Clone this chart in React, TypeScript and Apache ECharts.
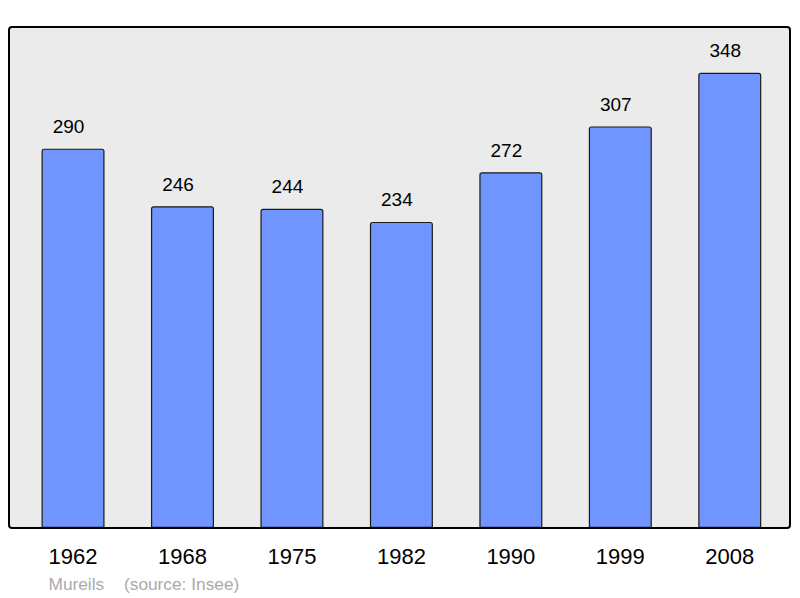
import React, { useEffect, useRef } from "react";
import * as echarts from "echarts";

const categories = ["1962", "1968", "1975", "1982", "1990", "1999", "2008"];
const population = [290, 246, 244, 234, 272, 307, 348];
const placeName = "Mureils";
const sourceText = "(source: Insee)";

export default function App() {
  const ref = useRef<HTMLDivElement>(null);
  useEffect(() => {
    if (!ref.current) return;
    const chart = echarts.init(ref.current, null, { renderer: "svg" });
    chart.setOption({
      animation: false,
      backgroundColor: "#ffffff",
      grid: { left: 18.3, width: 766.2, top: 27, bottom: 70, containLabel: false },
      xAxis: {
        type: "category",
        data: categories,
        axisLine: { show: false },
        axisTick: { show: false },
        axisLabel: {
          color: "#000",
          fontSize: 22,
          fontFamily: "Liberation Sans, Arial, sans-serif",
          margin: 17,
        },
      },
      yAxis: {
        type: "value",
        min: 0,
        max: 383,
        show: false,
        splitLine: { show: false },
      },
      graphic: [
        {
          type: "rect",
          z: -10,
          silent: true,
          shape: { x: 9, y: 27, width: 781, height: 501, r: 3 },
          style: { fill: "#ebebeb", stroke: "none" },
        },
        {
          type: "rect",
          z: 100,
          silent: true,
          shape: { x: 9, y: 27, width: 781, height: 501, r: 3 },
          style: { fill: "none", stroke: "#000", lineWidth: 2 },
        },
        {
          type: "text",
          left: 48.5,
          top: 575,
          style: {
            text: placeName,
            fill: "#aaaaaa",
            font: "17.3px Liberation Sans, Arial, sans-serif",
          },
        },
        {
          type: "text",
          left: 124,
          top: 575,
          style: {
            text: sourceText,
            fill: "#aaaaaa",
            font: "17.3px Liberation Sans, Arial, sans-serif",
          },
        },
      ],
      series: [
        {
          type: "bar",
          data: population,
          barWidth: 63,
          itemStyle: {
            color: "#7095ff",
            borderColor: "#1a1a1a",
            borderWidth: 1.2,
            borderRadius: [2, 2, 0, 0],
          },
          label: {
            show: true,
            position: "top",
            distance: 12.5,
            offset: [-4.5, 0],
            color: "#000",
            fontSize: 19,
            fontFamily: "Liberation Sans, Arial, sans-serif",
          },
        },
      ],
    });
    return () => chart.dispose();
  }, []);
  return <div ref={ref} style={{ width: 800, height: 598, position: "fixed", left: 0, top: 0 }} />;
}
